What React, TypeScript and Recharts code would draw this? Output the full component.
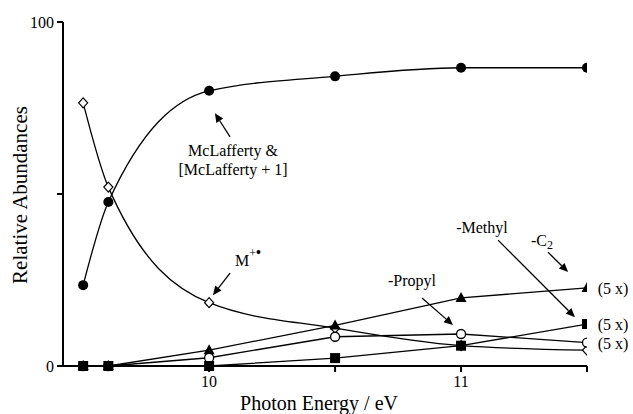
import React from "react";
import {
  LineChart,
  Line,
  XAxis,
  YAxis,
  Label,
  ReferenceLine,
  ReferenceDot,
} from "recharts";

// photon energies (eV)
const energies = [9.5, 9.6, 10, 10.5, 11, 11.5];
// relative abundances
const mclafferty = [23.5, 47.7, 80, 84.2, 86.7, 86.7];
const molecularIon = [76.5, 52, 18.4, 11, 5.9, 4.6];
const lossC2 = [0, 0, 4.6, 11.8, 19.8, 22.7];
const lossMethyl = [0, 0, 0, 2.3, 5.9, 12.2];
const lossPropyl = [0, 0, 2.4, 8.5, 9.3, 6.8];

const xTicks = [10, 10.5, 11, 11.5];
const yTicks = [0, 50, 100];

const data = energies.map((e, i) => ({
  e,
  mcl: mclafferty[i],
  mion: molecularIon[i],
  c2: lossC2[i],
  methyl: lossMethyl[i],
  propyl: lossPropyl[i],
}));

const FONT = "Liberation Serif, Times New Roman, Times, serif";
const ANN = 16;

// marker shapes
const filledCircle = (p: any) => (
  <circle key={p.key} cx={p.cx} cy={p.cy} r={5} fill="#000" />
);
const openCircle = (p: any) => (
  <circle key={p.key} cx={p.cx} cy={p.cy} r={4.5} fill="#fff" stroke="#000" strokeWidth={1.3} />
);
const openDiamond = (p: any) => (
  <path
    key={p.key}
    d={`M${p.cx},${p.cy - 5}L${p.cx + 4.5},${p.cy}L${p.cx},${p.cy + 5}L${p.cx - 4.5},${p.cy}Z`}
    fill="#fff"
    stroke="#000"
    strokeWidth={1.2}
  />
);
const filledTriangle = (p: any) => (
  <path
    key={p.key}
    d={`M${p.cx},${p.cy - 6}L${p.cx + 5.5},${p.cy + 4}L${p.cx - 5.5},${p.cy + 4}Z`}
    fill="#000"
  />
);
const filledSquare = (p: any) => (
  <rect key={p.key} x={p.cx - 5} y={p.cy - 5} width={10} height={10} fill="#000" />
);

// arrow drawn from a reference segment
const arrowShape = (p: any) => {
  const { x1, y1, x2, y2 } = p;
  const ang = Math.atan2(y2 - y1, x2 - x1);
  const L = 9;
  const W = 4;
  const bx = x2 - L * Math.cos(ang);
  const by = y2 - L * Math.sin(ang);
  const px = -Math.sin(ang) * W;
  const py = Math.cos(ang) * W;
  return (
    <g>
      <line x1={x1} y1={y1} x2={bx} y2={by} stroke="#000" strokeWidth={1.3} />
      <path d={`M${x2},${y2}L${bx + px},${by + py}L${bx - px},${by - py}Z`} fill="#000" />
    </g>
  );
};

const txtStyle = { fontFamily: FONT, fontSize: ANN, fill: "#000" };

const textShape = (lines: string[], dx = 0) => (p: any) => (
  <text x={p.cx + dx} y={p.cy} style={txtStyle} textAnchor="middle" dominantBaseline="central">
    {lines.map((l, i) => (
      <tspan key={i} x={p.cx + dx} dy={i === 0 ? 0 : 19}>
        {l}
      </tspan>
    ))}
  </text>
);

const mionLabel = (p: any) => (
  <text x={p.cx} y={p.cy} style={txtStyle} textAnchor="start" dominantBaseline="central">
    M<tspan dy={-7} style={{ fontSize: 12 }}>+</tspan>
    <tspan dy={-1} style={{ fontSize: 14, fontWeight: "bold" }}>•</tspan>
  </text>
);

const c2Label = (p: any) => (
  <text x={p.cx} y={p.cy} style={txtStyle} textAnchor="middle" dominantBaseline="central">
    -C<tspan dy={5} style={{ fontSize: 12 }}>2</tspan>
  </text>
);

const xLabel = (p: any) => {
  const vb = p.viewBox;
  return (
    <text x={vb.x + vb.width / 2 - 6} y={vb.y + 37} style={{ fontFamily: FONT, fontSize: 20, fill: "#000" }} textAnchor="middle" dominantBaseline="central">
      Photon Energy / eV
    </text>
  );
};

const yLabel = () => {
  const cx = 20;
  const cy = 195;
  return (
    <text x={cx} y={cy} transform={`rotate(-90 ${cx} ${cy})`} style={{ fontFamily: FONT, fontSize: 21, fill: "#000" }} textAnchor="middle" dominantBaseline="central">
      Relative Abundances
    </text>
  );
};

export default function App() {
  return (
    <div style={{ position: "absolute", left: 0, top: 0, background: "#fff", fontFamily: FONT }}>
      <LineChart
        width={633}
        height={414}
        data={data}
        margin={{ top: 22, right: 46, bottom: 0, left: 0 }}
      >
        <XAxis
          dataKey="e"
          type="number"
          domain={[9.42, 11.5]}
          ticks={xTicks}
          allowDataOverflow
          tickFormatter={(v: number) => (Number.isInteger(v) ? String(v) : "")}
          height={48}
          stroke="#000"
          strokeWidth={2}
          tickSize={6}
          tickMargin={4}
          tick={{ fill: "#000", fontFamily: FONT, fontSize: 16 }}
        >
          <Label content={xLabel} />
        </XAxis>
        <YAxis
          type="number"
          domain={[0, 100]}
          ticks={yTicks}
          tickFormatter={(v: number) => (v === 50 ? "" : String(v))}
          width={63}
          stroke="#000"
          strokeWidth={2}
          tickSize={6}
          tickMargin={3}
          tick={{ fill: "#000", fontFamily: FONT, fontSize: 16 }}
        >
          <Label content={yLabel} />
        </YAxis>

        <Line dataKey="mcl" type="monotone" stroke="#000" strokeWidth={1.3} dot={filledCircle} isAnimationActive={false} />
        <Line dataKey="mion" type="monotone" stroke="#000" strokeWidth={1.3} dot={openDiamond} isAnimationActive={false} />
        <Line dataKey="c2" type="linear" stroke="#000" strokeWidth={1.3} dot={filledTriangle} isAnimationActive={false} />
        <Line dataKey="propyl" type="linear" stroke="#000" strokeWidth={1.3} dot={openCircle} isAnimationActive={false} />
        <Line dataKey="methyl" type="linear" stroke="#000" strokeWidth={1.3} dot={filledSquare} isAnimationActive={false} />

        {/* McLafferty */}
        <ReferenceLine segment={[{ x: 10.083, y: 66.6 }, { x: 10.023, y: 73.5 }]} shape={arrowShape} ifOverflow="visible" />
        <ReferenceDot x={10.095} y={62.8} shape={textShape(["McLafferty &", "[McLafferty + 1]"])} ifOverflow="visible" />
        {/* M+ */}
        <ReferenceLine segment={[{ x: 10.083, y: 27 }, { x: 10.015, y: 20.6 }]} shape={arrowShape} ifOverflow="visible" />
        <ReferenceDot x={10.103} y={30.8} shape={mionLabel} ifOverflow="visible" />
        {/* -Propyl */}
        <ReferenceLine segment={[{ x: 10.845, y: 19.8 }, { x: 10.968, y: 11.9 }]} shape={arrowShape} ifOverflow="visible" />
        <ReferenceDot x={10.805} y={25} shape={textShape(["-Propyl"])} ifOverflow="visible" />
        {/* -Methyl */}
        <ReferenceLine segment={[{ x: 11.147, y: 36.6 }, { x: 11.452, y: 14.2 }]} shape={arrowShape} ifOverflow="visible" />
        <ReferenceDot x={11.083} y={40.4} shape={textShape(["-Methyl"])} ifOverflow="visible" />
        {/* -C2 */}
        <ReferenceLine segment={[{ x: 11.345, y: 33.1 }, { x: 11.425, y: 27.3 }]} shape={arrowShape} ifOverflow="visible" />
        <ReferenceDot x={11.321} y={36.6} shape={c2Label} ifOverflow="visible" />

        {/* scale notes at the last points */}
        <ReferenceDot x={energies[5]} y={lossC2[5]} shape={textShape(["(5 x)"], 26)} ifOverflow="visible" />
        <ReferenceDot x={energies[5]} y={lossMethyl[5]} shape={textShape(["(5 x)"], 26)} ifOverflow="visible" />
        <ReferenceDot x={energies[5]} y={lossPropyl[5]} shape={textShape(["(5 x)"], 26)} ifOverflow="visible" />
      </LineChart>
    </div>
  );
}
